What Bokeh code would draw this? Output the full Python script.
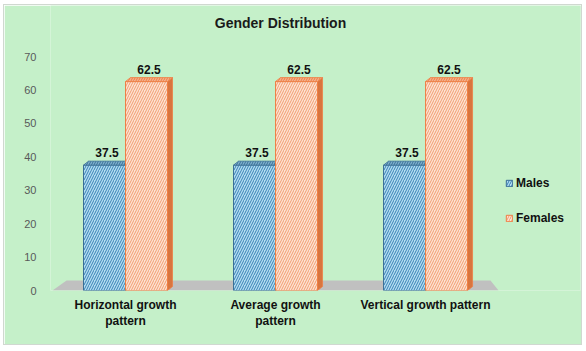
from bokeh.plotting import figure
from bokeh.models import Range1d, FixedTicker, Legend, LegendItem, LabelSet, Label, ColumnDataSource
from bokeh.core.properties import value
from bokeh.embed import file_html
from bokeh.resources import INLINE

title_text = "Gender Distribution"
categories = ["Horizontal growth\npattern", "Average growth\npattern", "Vertical growth pattern"]
males = [37.5, 37.5, 37.5]
females = [62.5, 62.5, 62.5]
series_names = ["Males", "Females"]
y_ticks = [0, 10, 20, 30, 40, 50, 60, 70]

BG = "#c5f0c9"
FONT = "Liberation Sans"

p = figure(width=577, height=339, output_backend="svg", toolbar_location=None,
           x_range=Range1d(-0.5, 3.033), y_range=Range1d(0, 85.26),
           background_fill_color=BG, border_fill_color=BG,
           min_border_left=46, min_border_right=1, min_border_top=0, min_border_bottom=54)
p.margin = (5, 5, 7, 4)
p.styles = {"outline": "1px solid #d0d8d0"}
p.outline_line_color = None
p.grid.visible = False
p.title.visible = False

p.add_layout(Label(x=230, y=268, x_units="screen", y_units="screen", text=title_text,
                   text_align="center", text_baseline="middle", text_font=FONT,
                   text_font_size="14px", text_font_style="bold", text_color="#1a1a1a"))

dx = 5 / 150.0   # depth offset in x units
dy = 4 * 70 / 234.0  # depth offset in y units
bw = 0.28

n = len(categories)
p.patch([-0.487, -0.393, n - 0.567, n - 0.513], [0, 3.0, 3.0, 0],
        fill_color="#c0c0c0", line_color=None)

def draw_series(vals, offset, fill, hatch, line, side, top):
    lefts = [i + offset for i in range(len(vals))]
    rights = [l + bw for l in lefts]
    side_xs = [[r, r + dx, r + dx, r] for r in rights]
    side_ys = [[0, dy, v + dy, v] for v in vals]
    p.patches(side_xs, side_ys, fill_color=side, line_color=line, line_width=0.8)
    r = p.quad(left=lefts, right=rights, bottom=[0] * len(vals), top=vals,
               fill_color=fill, hatch_pattern="right_diagonal_line", hatch_color=hatch,
               hatch_scale=5, hatch_weight=1, line_color=line, line_width=1)
    top_xs = [[l, l + dx, rr + dx, rr] for l, rr in zip(lefts, rights)]
    top_ys = [[v, v + dy, v + dy, v] for v in vals]
    p.patches(top_xs, top_ys, fill_color=top, hatch_pattern="right_diagonal_line",
              hatch_color=line, hatch_scale=5, line_color=line, line_width=0.8)
    src = ColumnDataSource(dict(x=[(l + rr) / 2 + dx / 2 for l, rr in zip(lefts, rights)],
                                y=[v + dy for v in vals], t=[str(v) for v in vals]))
    p.add_layout(LabelSet(x="x", y="y", text="t", source=src, text_align="center",
                          text_baseline="bottom", y_offset=4, text_font=value(FONT),
                          text_font_size=value("12px"), text_font_style="bold",
                          text_color="#111111"))
    return r

rm = draw_series(males, -bw, "#b3def2", "#3a80b4", "#3a6f96", "#2f6a92", "#7fb0cf")
rf = draw_series(females, 0.0, "#fde3d2", "#f29c72", "#ee7f45", "#d9753f", "#f5b08c")

p.xaxis.ticker = FixedTicker(ticks=list(range(n)))
p.xaxis.major_label_overrides = {i: c for i, c in enumerate(categories)}
p.xaxis.axis_line_color = None
p.xaxis.major_tick_line_color = None
p.xaxis.minor_tick_line_color = None
p.xaxis.major_tick_out = 0
p.xaxis.major_tick_in = 0
p.xaxis.major_label_text_font = FONT
p.xaxis.major_label_text_font_size = "12px"
p.xaxis.major_label_text_font_style = "bold"
p.xaxis.major_label_text_color = "#111111"
p.xaxis.major_label_standoff = 7

p.yaxis.ticker = FixedTicker(ticks=y_ticks)
p.yaxis.axis_line_color = None
p.yaxis.major_tick_line_color = None
p.yaxis.minor_tick_line_color = None
p.yaxis.major_tick_out = 0
p.yaxis.major_tick_in = 0
p.yaxis.major_label_text_font = FONT
p.yaxis.major_label_text_font_size = "11px"
p.yaxis.major_label_text_color = "#595959"
p.yaxis.major_label_standoff = 14

legend = Legend(items=[LegendItem(label=series_names[0], renderers=[rm]),
                       LegendItem(label=series_names[1], renderers=[rf])],
                location=(455, 62), background_fill_alpha=0, border_line_color=None,
                glyph_width=8, glyph_height=8, label_height=20, spacing=15,
                label_standoff=3, padding=0, margin=0,
                label_text_font=FONT, label_text_font_size="12px",
                label_text_font_style="bold", label_text_color="#111111")
p.add_layout(legend)

open("out.html", "w").write(file_html(p, INLINE))
